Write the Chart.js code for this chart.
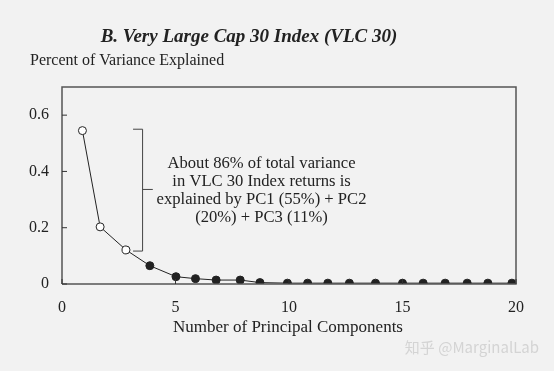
<!DOCTYPE html>
<html>
<head>
<meta charset="utf-8">
<script src="https://cdn.jsdelivr.net/npm/chart.js@4.4.1/dist/chart.umd.min.js"></script>
<style>
  html, body { margin: 0; padding: 0; background: #f2f2f2; }
  #wrap { width: 554px; height: 371px; position: relative; }
</style>
</head>
<body>
<div id="wrap"><canvas id="grafico" width="554" height="371"></canvas></div>
<script>
// component position on the x axis, as drawn in the source figure
const componentes = [0.90, 1.68, 2.82, 3.87, 5.02, 5.88, 6.79, 7.85, 8.72, 9.93,
                     10.82, 11.71, 12.66, 13.81, 15.0, 15.91, 16.88, 17.85, 18.76, 19.82];
const variancia = [0.545, 0.203, 0.121, 0.065, 0.026, 0.019, 0.014, 0.014, 0.005, 0.003,
                   0.003, 0.003, 0.003, 0.003, 0.003, 0.003, 0.003, 0.003, 0.003, 0.003];
const ticksY = [0, 0.2, 0.4, 0.6];
const ticksX = [0, 5, 10, 15, 20];
const titulo = 'B. Very Large Cap 30 Index (VLC 30)';
const tituloY = 'Percent of Variance Explained';
const tituloX = 'Number of Principal Components';
const nota = ['About 86% of total variance', 'in VLC 30 Index returns is',
              'explained by PC1 (55%) + PC2', '(20%) + PC3 (11%)'];

const serif = '"Liberation Serif", "Times New Roman", serif';
const escuro = '#222';

const pontos = componentes.map((x, i) => ({ x: x, y: variancia[i] }));

// frame, inward ticks, bracket and the text around the plot
const extras = {
  id: 'extras',
  afterDraw(chart) {
    const ctx = chart.ctx;
    const a = chart.chartArea;
    const sx = chart.scales.x, sy = chart.scales.y;
    ctx.save();

    ctx.strokeStyle = '#555';
    ctx.lineWidth = 1.5;
    ctx.beginPath();
    ctx.moveTo(a.left, a.bottom);
    ctx.lineTo(a.left, a.top);
    ctx.lineTo(a.right, a.top);
    ctx.lineTo(a.right, a.bottom);
    ctx.lineTo(a.left, a.bottom);
    ctx.stroke();

    ctx.lineWidth = 1;
    ctx.strokeStyle = '#333';
    ticksY.forEach(v => {
      const y = sy.getPixelForValue(v);
      ctx.beginPath(); ctx.moveTo(a.left, y); ctx.lineTo(a.left + 5, y); ctx.stroke();
    });
    ticksX.forEach(v => {
      const x = sx.getPixelForValue(v);
      ctx.beginPath(); ctx.moveTo(x, a.bottom); ctx.lineTo(x, a.bottom - 5); ctx.stroke();
    });

    // bracket round the first three components
    const bx = sx.getPixelForValue(3.55);
    const bl = sx.getPixelForValue(3.13);
    const br = sx.getPixelForValue(4.0);
    const top = sy.getPixelForValue(0.55);
    const bot = sy.getPixelForValue(0.117);
    const mid = sy.getPixelForValue(0.336);
    ctx.strokeStyle = '#444';
    ctx.beginPath();
    ctx.moveTo(bl, top); ctx.lineTo(bx, top); ctx.lineTo(bx, bot); ctx.lineTo(bl, bot);
    ctx.moveTo(bx, mid); ctx.lineTo(br, mid);
    ctx.stroke();

    ctx.fillStyle = escuro;
    ctx.textBaseline = 'middle';
    ctx.textAlign = 'center';
    ctx.font = '16.6px ' + serif;
    const cx = sx.getPixelForValue(8.79);
    const y0 = sy.getPixelForValue(0.429);
    nota.forEach((t, i) => ctx.fillText(t, cx, y0 + i * 18.2));

    ctx.font = 'italic bold 19px ' + serif;
    ctx.fillText(titulo, 249, 37);

    ctx.textAlign = 'left';
    ctx.font = '16px ' + serif;
    ctx.fillText(tituloY, 30, 61);

    ctx.textAlign = 'center';
    ctx.font = '17px ' + serif;
    ctx.fillText(tituloX, 288, 328);

    // watermark
    ctx.font = '15px "Noto Sans CJK SC", sans-serif';
    ctx.fillStyle = '#d4d4d4';
    ctx.textAlign = 'right';
    ctx.fillText('知乎 @MarginalLab', 539, 347);
    ctx.restore();
  }
};

const ctxGrafico = document.getElementById('grafico').getContext('2d');
const grafico = new Chart(ctxGrafico, {
  type: 'scatter',
  data: {
    datasets: [{
      data: pontos,
      showLine: true,
      borderColor: escuro,
      borderWidth: 1,
      pointRadius: 4,
      pointBorderWidth: 1,
      pointBorderColor: escuro,
      pointBackgroundColor: variancia.map((v, i) => i < 3 ? '#ffffff' : escuro)
    }]
  },
  options: {
    responsive: false,
    animation: false,
    layout: { padding: { top: 87, right: 38, left: 0, bottom: 0 } },
    plugins: { legend: { display: false }, tooltip: { enabled: false } },
    scales: {
      x: {
        type: 'linear',
        min: 0, max: 20,
        afterFit: s => { s.height = 87; },
        afterBuildTicks: s => { s.ticks = ticksX.map(v => ({ value: v })); },
        grid: { display: false },
        border: { display: false },
        ticks: { padding: 6, color: escuro, font: { family: serif, size: 16 } }
      },
      y: {
        min: 0, max: 0.7,
        afterFit: s => { s.width = 62; },
        afterBuildTicks: s => { s.ticks = ticksY.map(v => ({ value: v })); },
        grid: { display: false },
        border: { display: false },
        ticks: { padding: 5, color: escuro, font: { family: serif, size: 16 },
                 callback: v => String(v) }
      }
    }
  },
  plugins: [extras]
});
</script>
</body>
</html>
